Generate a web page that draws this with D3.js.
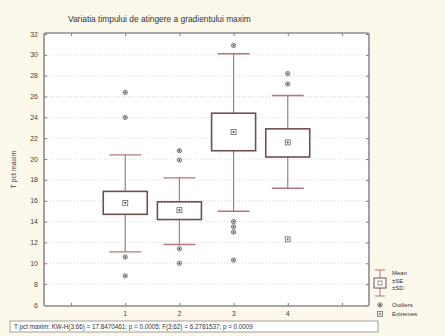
<!DOCTYPE html>
<html>
<head>
<meta charset="utf-8">
<script src="https://cdn.jsdelivr.net/npm/d3@7"></script>
<style>
  body { margin: 0; background: #fcf8ec; }
  svg { display: block; font-family: "Liberation Sans", Arial, sans-serif; }
</style>
</head>
<body>
<script>
// values
var groups = [1, 2, 3, 4];
var means = [15.8, 15.1, 22.6, 21.6];
var boxLow = [14.7, 14.2, 20.8, 20.2];     // mean - SE
var boxHigh = [16.9, 15.9, 24.4, 22.9];    // mean + SE
var whiskLow = [11.1, 11.8, 15.0, 17.2];   // mean - SD
var whiskHigh = [20.4, 18.2, 30.1, 26.1];  // mean + SD
var outliers = [
  [26.4, 24.0, 10.6, 8.8],
  [20.8, 19.9, 11.4, 10.0],
  [30.9, 14.0, 13.5, 13.0, 10.3],
  [28.2, 27.2]
];
var extremes = [[], [], [], [12.3]];
var yTicks = [6, 8, 10, 12, 14, 16, 18, 20, 22, 24, 26, 28, 30, 32];
var xTicks = [0, 1, 2, 3, 4, 5];
var legendLabels = ["Mean", "\u00b1SE", "\u00b1SD", "Outliers", "Extremes"];
var title = "Variatia timpului de atingere a gradientului maxim";
var yTitle = "T pct maxim";
var statsText = "T pct maxim:  KW-H(3;66) = 17.8470461; p = 0.0005;   F(3;62) = 6.2781537; p = 0.0009";

var W = 445, H = 336;
var pL = 44, pR = 369, pT = 33, pB = 306;

var svg = d3.select("body").append("svg")
  .attr("width", W)
  .attr("height", H);

svg.append("rect").attr("width", W).attr("height", H).attr("fill", "#fcf8ec");

var x = d3.scaleLinear().domain([-0.5, 5.5]).range([pL, pR]);
var y = d3.scaleLinear().domain([6, 32]).range([pB - 1, pT + 1]);

// plot area
svg.append("rect")
  .attr("x", pL).attr("y", pT)
  .attr("width", pR - pL).attr("height", pB - pT)
  .attr("fill", "#fff");

// dotted grid
svg.append("g").selectAll("line")
  .data(yTicks.slice(1, -1))
  .enter().append("line")
  .attr("x1", pL).attr("x2", pR)
  .attr("y1", function(d) { return y(d); })
  .attr("y2", function(d) { return y(d); })
  .attr("stroke", "#c8c8c8")
  .attr("stroke-width", 0.7)
  .attr("stroke-dasharray", "1,2");

// axes (ticks pointing inward, on all four sides)
var fmtX = function(d) { return (d >= 1 && d <= 4) ? d : ""; };
var axL = svg.append("g").attr("transform", "translate(" + pL + ",0)")
  .call(d3.axisRight(y).tickValues(yTicks).tickSize(3).tickFormat(""));
var axR = svg.append("g").attr("transform", "translate(" + pR + ",0)")
  .call(d3.axisLeft(y).tickValues(yTicks).tickSize(3).tickFormat(""));
var axT = svg.append("g").attr("transform", "translate(0," + pT + ")")
  .call(d3.axisBottom(x).tickValues(xTicks).tickSize(3).tickFormat(""));
var axB = svg.append("g").attr("transform", "translate(0," + pB + ")")
  .call(d3.axisTop(x).tickValues(xTicks).tickSize(3).tickFormat(""));
[axL, axR, axT, axB].forEach(function(a) {
  a.select(".domain").remove();
  a.selectAll(".tick line").attr("stroke", "#777");
});

// labels outside
svg.append("g").selectAll("text")
  .data(yTicks)
  .enter().append("text")
  .attr("x", pL - 6)
  .attr("y", function(d) { return y(d) + 2.5; })
  .attr("text-anchor", "end")
  .attr("font-size", 7)
  .attr("fill", "#444")
  .text(function(d) { return d; });

svg.append("g").selectAll("text")
  .data(xTicks.filter(function(d) { return fmtX(d) !== ""; }))
  .enter().append("text")
  .attr("x", function(d) { return x(d); })
  .attr("y", pB + 10)
  .attr("text-anchor", "middle")
  .attr("font-size", 7)
  .attr("fill", "#444")
  .text(fmtX);

// frame
svg.append("rect")
  .attr("x", pL).attr("y", pT)
  .attr("width", pR - pL).attr("height", pB - pT)
  .attr("rx", 2)
  .attr("fill", "none")
  .attr("stroke", "#8c8c8c")
  .attr("stroke-width", 1.6);

svg.append("text")
  .attr("x", 68).attr("y", 22)
  .attr("font-size", 8.4)
  .attr("fill", "#333")
  .text(title);

svg.append("text")
  .attr("transform", "translate(16," + ((pT + pB) / 2) + ") rotate(-90)")
  .attr("text-anchor", "middle")
  .attr("font-size", 7)
  .attr("fill", "#444")
  .text(yTitle);

// box plots
var boxW = 44, capW = 32;
var whiskCol = "#b07878", boxCol = "#6e5050";
var g = svg.append("g");

function outlierMark(sel, cx, cy) {
  sel.append("circle")
    .attr("cx", cx).attr("cy", cy).attr("r", 2.2)
    .attr("fill", "#d8d8d8").attr("stroke", "#666").attr("stroke-width", 0.8);
  sel.append("circle")
    .attr("cx", cx).attr("cy", cy).attr("r", 0.9)
    .attr("fill", "#444");
}

function extremeMark(sel, cx, cy) {
  sel.append("rect")
    .attr("x", cx - 2.5).attr("y", cy - 2.5)
    .attr("width", 5).attr("height", 5)
    .attr("fill", "#e4e4e4").attr("stroke", "#777").attr("stroke-width", 0.8);
  sel.append("circle")
    .attr("cx", cx).attr("cy", cy).attr("r", 0.8)
    .attr("fill", "#555");
}

groups.forEach(function(grp, i) {
  var cx = x(grp);
  g.append("line")
    .attr("x1", cx).attr("x2", cx)
    .attr("y1", y(whiskHigh[i])).attr("y2", y(whiskLow[i]))
    .attr("stroke", whiskCol).attr("stroke-width", 1.2);
  [whiskHigh[i], whiskLow[i]].forEach(function(v) {
    g.append("line")
      .attr("x1", cx - capW / 2).attr("x2", cx + capW / 2)
      .attr("y1", y(v)).attr("y2", y(v))
      .attr("stroke", whiskCol).attr("stroke-width", 1.4);
  });
  g.append("rect")
    .attr("x", cx - boxW / 2).attr("y", y(boxHigh[i]))
    .attr("width", boxW).attr("height", y(boxLow[i]) - y(boxHigh[i]))
    .attr("fill", "#fff")
    .attr("stroke", boxCol).attr("stroke-width", 1.6);
  g.append("rect")
    .attr("x", cx - 2.5).attr("y", y(means[i]) - 2.5)
    .attr("width", 5).attr("height", 5)
    .attr("fill", "#fff").attr("stroke", "#666").attr("stroke-width", 0.8);
  g.append("circle")
    .attr("cx", cx).attr("cy", y(means[i])).attr("r", 1.1)
    .attr("fill", "#555");

  outliers[i].forEach(function(v) { outlierMark(g, cx, y(v)); });
  extremes[i].forEach(function(v) { extremeMark(g, cx, y(v)); });
});

// legend
var lg = svg.append("g").attr("transform", "translate(380,0)");
lg.append("line").attr("x1", 0).attr("x2", 0).attr("y1", 270).attr("y2", 296)
  .attr("stroke", whiskCol).attr("stroke-width", 1);
[270, 296].forEach(function(v) {
  lg.append("line").attr("x1", -5).attr("x2", 5).attr("y1", v).attr("y2", v)
    .attr("stroke", whiskCol).attr("stroke-width", 1);
});
lg.append("rect").attr("x", -6).attr("y", 278).attr("width", 12).attr("height", 10)
  .attr("fill", "#fff").attr("stroke", boxCol).attr("stroke-width", 1);
lg.append("rect").attr("x", -2).attr("y", 281).attr("width", 4).attr("height", 4)
  .attr("fill", "#fff").attr("stroke", "#666").attr("stroke-width", 0.7);
outlierMark(lg, 0, 305);
extremeMark(lg, 0, 314);

var legendY = [275, 283, 290, 307, 316];
lg.selectAll("text.lab")
  .data(legendLabels)
  .enter().append("text")
  .attr("class", "lab")
  .attr("x", 12)
  .attr("y", function(d, i) { return legendY[i]; })
  .attr("font-size", 6)
  .attr("fill", "#333")
  .text(function(d) { return d; });

// statistics box
svg.append("rect")
  .attr("x", 10).attr("y", 321)
  .attr("width", 368).attr("height", 11)
  .attr("fill", "#fff")
  .attr("stroke", "#888").attr("stroke-width", 0.8);
svg.append("text")
  .attr("x", 14).attr("y", 329)
  .attr("font-size", 6.3)
  .attr("fill", "#333")
  .text(statsText);
</script>
</body>
</html>
